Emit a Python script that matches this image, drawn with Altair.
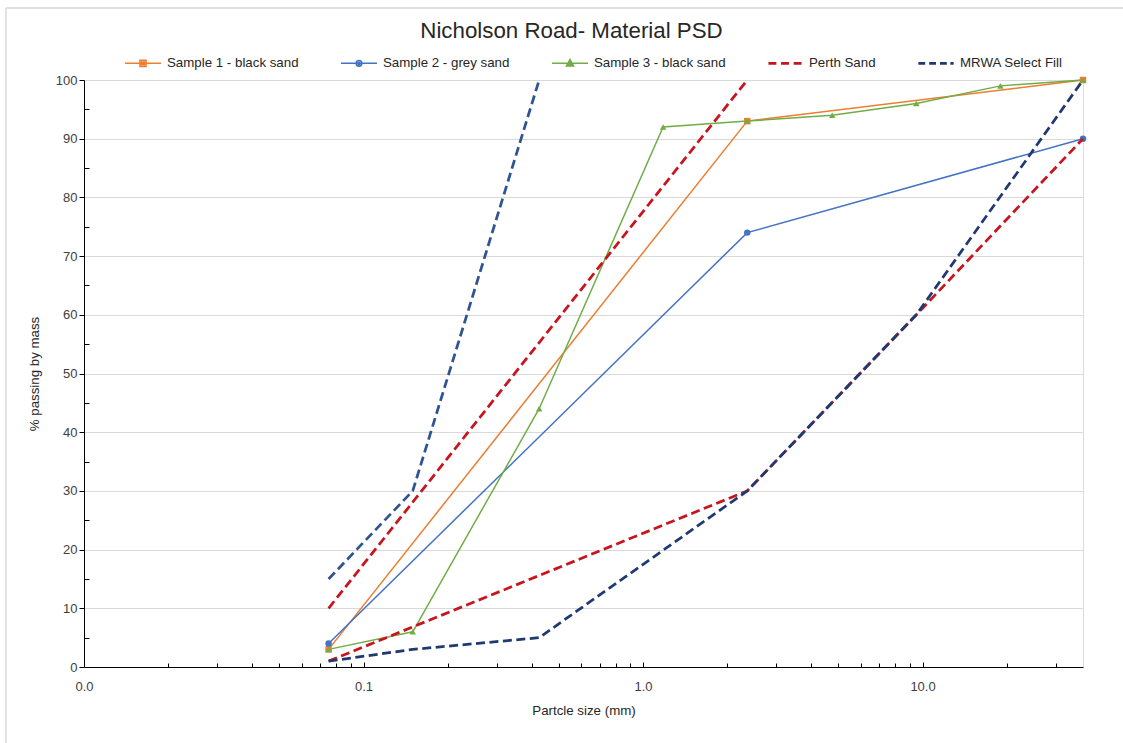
import altair as alt
import pandas as pd

# Sieve sizes (mm) and percent passing for each tested sample
s1_size = [0.075, 2.36, 37.5]
s1_pass = [3, 93, 100]
s2_size = [0.075, 2.36, 37.5]
s2_pass = [4, 74, 90]
s3_size = [0.075, 0.15, 0.425, 1.18, 2.36, 4.75, 9.5, 19.0, 37.5]
s3_pass = [3, 6, 44, 92, 93, 94, 96, 99, 100]

# Specification envelopes (lower / upper limits)
perth_lo_size = [0.075, 2.36, 9.5, 37.5]
perth_lo_pass = [1, 30, 60, 90]
perth_hi_size = [0.075, 2.36]
perth_hi_pass = [10, 100]
mrwa_lo_size = [0.075, 0.15, 0.425, 2.36, 9.5, 37.5]
mrwa_lo_pass = [1, 3, 5, 30, 60, 100]
mrwa_hi_size = [0.075, 0.15, 0.425]
mrwa_hi_pass = [15, 30, 100]

series_names = ["Sample 1 - black sand", "Sample 2 - grey sand",
                "Sample 3 - black sand", "Perth Sand", "MRWA Select Fill"]
series_colors = ["#ED7D31", "#4472C4", "#70AD47", "#C8141E", "#1F3A73"]
sample_names = series_names[:3]
sample_shapes = ["square", "circle", "triangle-up"]

trace_names = ["s1", "s2", "s3", "perth_lo", "perth_hi", "mrwa_lo", "mrwa_hi"]
trace_colors = ["#ED7D31", "#4472C4", "#70AD47", "#C8141E", "#C8141E",
                "#1F3A73", "#2E5591"]

x_labels = [0.01, 0.1, 1, 10]
x_minor = [0.02, 0.03, 0.04, 0.05, 0.06, 0.07, 0.08, 0.09,
           0.2, 0.3, 0.4, 0.5, 0.6, 0.7, 0.8, 0.9,
           2, 3, 4, 5, 6, 7, 8, 9, 20, 30]
x_major = [0.1, 1, 10]
y_major = list(range(0, 101, 10))
y_minor = list(range(5, 100, 10))

traces = [
    ("s1", series_names[0], s1_size, s1_pass),
    ("s2", series_names[1], s2_size, s2_pass),
    ("s3", series_names[2], s3_size, s3_pass),
    ("perth_lo", series_names[3], perth_lo_size, perth_lo_pass),
    ("perth_hi", series_names[3], perth_hi_size, perth_hi_pass),
    ("mrwa_lo", series_names[4], mrwa_lo_size, mrwa_lo_pass),
    ("mrwa_hi", series_names[4], mrwa_hi_size, mrwa_hi_pass),
]
rows = []
for trace, series, sizes, passing in traces:
    for s, p in zip(sizes, passing):
        rows.append({"trace": trace, "series": series, "size": s, "passing": p,
                     "sample": series in sample_names})
df = pd.DataFrame(rows)

FONT = "Liberation Sans"
TEXT = "#404040"
W, H = 999, 587

x_scale = alt.Scale(type="log", domain=[0.01, 37.5], nice=False)
y_scale = alt.Scale(domain=[0, 100], nice=False)
trace_scale = alt.Scale(domain=trace_names, range=trace_colors)

base = alt.Chart(df)

# Solid sample lines, carrying the labelled axes and gridlines
sample_lines = base.transform_filter("datum.sample").mark_line(
    strokeWidth=1.5
).encode(
    x=alt.X("size:Q", scale=x_scale, axis=alt.Axis(
        orient="bottom", values=x_labels, format=".1f", ticks=False, tickSize=0,
        labelPadding=13, labelFlush=False, labelFont=FONT, labelFontSize=13,
        labelColor=TEXT, domainColor="#000000", domainWidth=1, grid=False,
        title="Partcle size (mm)", titleFont=FONT, titleFontSize=13.3,
        titleFontWeight="normal", titleColor="#262626", titlePadding=10)),
    y=alt.Y("passing:Q", scale=y_scale, axis=alt.Axis(
        orient="left", values=y_major, tickSize=5, tickColor="#000000",
        labelPadding=2, labelFont=FONT, labelFontSize=13, labelColor=TEXT,
        domainColor="#000000", domainWidth=1,
        grid=True, gridColor="#D9D9D9", gridWidth=1,
        title="% passing by mass", titleFont=FONT, titleFontSize=13.3,
        titleFontWeight="normal", titleColor="#262626", titlePadding=14)),
    stroke=alt.Stroke("trace:N", scale=trace_scale, legend=None),
    detail="trace:N",
    order=alt.Order("size:Q"),
)

# Sample markers, carrying the inward minor ticks
sample_points = base.transform_filter("datum.sample").mark_point(
    filled=True, size=42, opacity=1
).encode(
    x=alt.X("size:Q", scale=x_scale, axis=alt.Axis(
        orient="top", offset=-H, values=x_minor, labels=False, domain=False,
        grid=False, ticks=True, tickSize=4, tickColor="#000000", title=None)),
    y=alt.Y("passing:Q", scale=y_scale, axis=alt.Axis(
        orient="right", offset=-W, values=y_minor, labels=False, domain=False,
        grid=False, ticks=True, tickSize=5, tickColor="#000000", title=None)),
    fill=alt.Fill("trace:N", scale=trace_scale, legend=None),
    shape=alt.Shape("series:N", scale=alt.Scale(domain=sample_names, range=sample_shapes),
                    legend=None),
)

# Dashed specification envelopes
spec_lines = base.transform_filter("!datum.sample").mark_line(
    strokeWidth=2.75, strokeDash=[9, 4.5]
).encode(
    x=alt.X("size:Q", scale=x_scale, axis=alt.Axis(
        orient="top", offset=-H, values=x_major, labels=False, domain=False,
        grid=False, ticks=True, tickSize=5, tickColor="#000000", title=None)),
    y=alt.Y("passing:Q", scale=y_scale, axis=None),
    stroke=alt.Stroke("trace:N", scale=trace_scale, legend=None),
    detail="trace:N",
    order=alt.Order("size:Q"),
)

# Legend symbols: a short line with the series marker, or a dashed stroke
legend_paths = [
    "M-1,0H1M-0.17,-0.17H0.17V0.17H-0.17ZM-0.08,-0.08H0.08V0.08H-0.08Z",
    "M-1,0H1M-0.16,0A0.16,0.16 0 1,0 0.16,0A0.16,0.16 0 1,0 -0.16,0Z"
    "M-0.06,0A0.06,0.06 0 1,0 0.06,0A0.06,0.06 0 1,0 -0.06,0Z",
    "M-1,0H1M0,-0.21L0.2,0.15L-0.2,0.15ZM0,-0.08L0.08,0.07L-0.08,0.07Z",
    "M-0.92,-0.035H-0.48M-0.22,-0.035H0.22M0.48,-0.035H0.92"
    "M-0.92,0.035H-0.48M-0.22,0.035H0.22M0.48,0.035H0.92",
    "M-0.98,-0.035H-0.6M-0.38,-0.035H0M0.22,-0.035H0.6M0.8,-0.035H0.98"
    "M-0.98,0.035H-0.6M-0.38,0.035H0M0.22,0.035H0.6M0.8,0.035H0.98",
]
legend = alt.Legend(
    orient="none", legendX=40, legendY=-36, direction="horizontal", title=None,
    symbolSize=1296, symbolStrokeWidth=1.5, labelOffset=5, columnPadding=39,
    padding=0, labelFont=FONT, labelFontSize=13.3, labelColor="#262626",
    labelLimit=400,
)
legend_layer = base.transform_filter("false").mark_point(
    filled=False, opacity=1, strokeWidth=1.5
).encode(
    x=alt.X("size:Q", scale=x_scale, axis=None),
    y=alt.Y("passing:Q", scale=y_scale, axis=None),
    color=alt.Color("series:N", scale=alt.Scale(domain=series_names, range=series_colors),
                    legend=legend),
    shape=alt.Shape("series:N", scale=alt.Scale(domain=series_names, range=legend_paths),
                    legend=legend),
)

# Light frame around the chart area (top and left edges)
frame_df = pd.DataFrame({"edge": ["frame"]})
frame_top = alt.Chart(frame_df).mark_rule(color="#D9D9D9", strokeWidth=1.5).encode(
    x=alt.value(-78), x2=alt.value(W + 60), y=alt.value(-72))
frame_left = alt.Chart(frame_df).mark_rule(color="#D9D9D9", strokeWidth=1.5).encode(
    x=alt.value(-78), y=alt.value(-72), y2=alt.value(H + 100))

chart = alt.layer(
    frame_top, frame_left, sample_lines, sample_points, spec_lines, legend_layer
).resolve_axis(
    x="independent", y="independent"
).resolve_scale(
    shape="independent", color="independent"
).properties(
    width=W, height=H,
    title=alt.TitleParams("Nicholson Road- Material PSD", anchor="middle", frame="group",
                          dx=-12, offset=-35, font=FONT, fontSize=22.3, fontWeight="normal",
                          color="#262626"),
    autosize=alt.AutoSizeParams(type="none"),
    padding={"left": 84, "top": 80, "right": 40, "bottom": 76},
).configure_view(stroke=None).configure(background="white")

chart.save("out.html", embed_options={"renderer": "svg", "actions": False})
